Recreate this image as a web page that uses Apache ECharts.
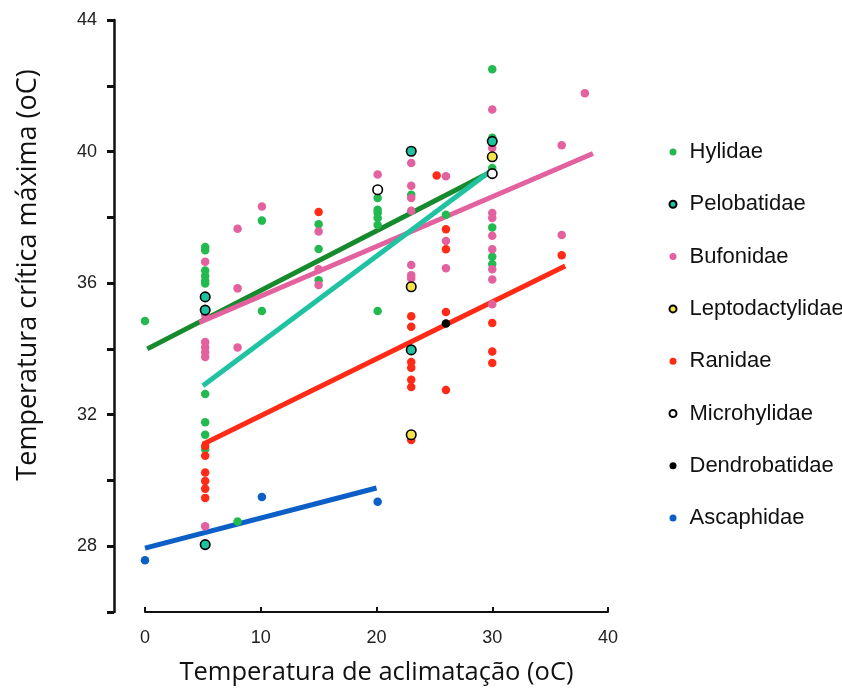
<!DOCTYPE html>
<html>
<head>
<meta charset="utf-8">
<script src="https://cdn.jsdelivr.net/npm/echarts@6/dist/echarts.min.js"></script>
<style>
html,body{margin:0;padding:0;background:#fff;}
#chart{width:842px;height:691px;}
</style>
</head>
<body>
<div id="chart"></div>
<script>
// ---- data ----
var families = ['Hylidae','Pelobatidae','Bufonidae','Leptodactylidae','Ranidae','Microhylidae','Dendrobatidae','Ascaphidae'];
var xTicks = [0, 10, 20, 30, 40];
var yTickLabels = [28, 32, 36, 40, 44];

var hylidae = [
  [0, 34.85],
  [5.2, 37.1], [5.2, 37.0], [5.2, 36.38], [5.2, 36.22], [5.2, 36.07], [5.2, 35.99], [5.2, 32.63], [5.2, 31.77], [5.2, 31.39], [5.2, 30.95],
  [8, 28.75],
  [10.1, 37.9], [10.1, 35.15],
  [15, 37.79], [15, 37.04], [15, 36.09],
  [20.1, 38.59], [20.1, 38.23], [20.1, 38.13], [20.1, 37.98], [20.1, 37.77], [20.1, 35.15],
  [23, 38.69],
  [26, 38.08],
  [30, 42.5], [30, 40.42], [30, 39.5], [30, 37.69], [30, 36.8], [30, 36.58]
];
var pelobatidae = [
  [5.2, 35.58], [5.2, 35.18], [5.2, 28.05],
  [23, 40.01], [23, 33.97],
  [30, 40.31]
];
var bufonidae = [
  [5.2, 36.65], [5.2, 35.02], [5.2, 34.21], [5.2, 34.05], [5.2, 33.9], [5.2, 33.75], [5.2, 28.61],
  [8, 37.65], [8, 35.84], [8, 34.04],
  [10.1, 38.33],
  [15, 37.57], [15, 36.42], [15, 35.94],
  [20.1, 39.3],
  [23, 39.65], [23, 38.96], [23, 38.59], [23, 38.2], [23, 36.55], [23, 36.24], [23, 36.14],
  [26, 39.25], [26, 37.28], [26, 36.45],
  [30, 41.28], [30, 40.11], [30, 38.13], [30, 37.98], [30, 37.44], [30, 37.03], [30, 36.42], [30, 36.11], [30, 35.36],
  [36, 40.19], [36, 37.46],
  [38, 41.77]
];
var leptodactylidae = [
  [23, 35.89], [23, 31.39],
  [30, 39.84]
];
var ranidae = [
  [5.2, 31.05], [5.2, 30.75], [5.2, 30.24], [5.2, 29.98], [5.2, 29.75], [5.2, 29.47],
  [15, 38.16],
  [23, 34.99], [23, 34.67], [23, 33.6], [23, 33.43], [23, 33.06], [23, 32.84], [23, 31.23],
  [25.2, 39.27],
  [26, 37.64], [26, 37.03], [26, 35.12], [26, 32.75],
  [30, 34.79], [30, 33.92], [30, 33.57],
  [36, 36.85]
];
var microhylidae = [
  [20.1, 38.84],
  [30, 39.33]
];
var dendrobatidae = [
  [26, 34.77]
];
var ascaphidae = [
  [0, 27.57], [10.1, 29.5], [20.1, 29.35]
];

// regression lines (endpoints)
var fitHylidae = [[0.2, 34.0], [30, 39.4]];
var fitPelobatidae = [[5, 32.88], [30, 39.45]];
var fitBufonidae = [[4.7, 34.8], [38.7, 39.94]];
var fitRanidae = [[5, 31.1], [36.3, 36.52]];
var fitAscaphidae = [[0, 27.94], [20, 29.77]];

// ---- styles ----
var FONT = "'Liberation Sans', Arial, Helvetica, sans-serif";
var TITLE_FONT = "'Open Sans', 'Liberation Sans', Arial, sans-serif";
var fills = {
  Hylidae: '#22b94e', Pelobatidae: '#1fc3a2', Bufonidae: '#e2619e', Leptodactylidae: '#f6e34c',
  Ranidae: '#ff2b17', Microhylidae: '#ffffff', Dendrobatidae: '#000000', Ascaphidae: '#0b5fc6'
};
var outlined = {Pelobatidae: true, Leptodactylidae: true, Microhylidae: true};
var pointData = {
  Hylidae: hylidae, Pelobatidae: pelobatidae, Bufonidae: bufonidae, Leptodactylidae: leptodactylidae,
  Ranidae: ranidae, Microhylidae: microhylidae, Dendrobatidae: dendrobatidae, Ascaphidae: ascaphidae
};

var series = [];
var fits = [
  ['fit Hylidae', fitHylidae, '#168a2c'],
  ['fit Bufonidae', fitBufonidae, '#e2619e'],
  ['fit Pelobatidae', fitPelobatidae, '#1fc3a2'],
  ['fit Ranidae', fitRanidae, '#ff2b17'],
  ['fit Ascaphidae', fitAscaphidae, '#0b5fc6']
];
fits.forEach(function (f) {
  series.push({
    name: f[0], type: 'line', data: f[1], showSymbol: false, symbol: 'none',
    lineStyle: {color: f[2], width: 5, cap: 'butt'}, z: 2, silent: true
  });
});
families.forEach(function (fam) {
  var o = outlined[fam];
  series.push({
    name: fam, type: 'scatter', data: pointData[fam],
    symbol: 'circle', symbolSize: o ? 9.5 : 8.5,
    itemStyle: {color: fills[fam], borderColor: o ? '#000' : fills[fam], borderWidth: o ? 1.6 : 0, opacity: 1},
    z: 3 + (o ? 1 : 0) + (fam === 'Dendrobatidae' ? 1 : 0)
  });
});

var chart = echarts.init(document.getElementById('chart'), null, {renderer: 'canvas'});
chart.setOption({
  animation: false,
  backgroundColor: '#ffffff',
  grid: {left: 145, right: 234, top: 20, bottom: 79, containLabel: false},
  legend: {
    data: families.map(function (f) { return {name: f, icon: 'circle'}; }),
    orient: 'vertical', left: 663.5, top: 136,
    itemWidth: 7, itemHeight: 7, itemGap: 30.3,
    textStyle: {fontFamily: FONT, fontSize: 22, color: '#111', lineHeight: 22, padding: [0, 0, 0, 8]}
  },
  xAxis: {
    type: 'value', min: 0, max: 40, interval: 10,
    name: 'Temperatura de aclimatação (oC)', nameLocation: 'middle', nameGap: 48,
    nameTextStyle: {fontFamily: TITLE_FONT, fontSize: 25.5, color: '#111'},
    axisLine: {show: true, onZero: false, lineStyle: {color: '#111', width: 2}},
    axisTick: {show: true, inside: true, length: 5, lineStyle: {color: '#111', width: 2}},
    axisLabel: {fontFamily: FONT, fontSize: 18, color: '#222', margin: 17,
      formatter: function (v) { return xTicks.indexOf(v) >= 0 ? String(v) : ''; }},
    splitLine: {show: false}
  },
  yAxis: {
    type: 'value', min: 26, max: 44, interval: 2, offset: 31,
    name: 'Temperatura crítica máxima (oC)', nameLocation: 'middle', nameGap: 72,
    nameTextStyle: {fontFamily: TITLE_FONT, fontSize: 27, color: '#111', padding: [0, 0, 0, 82]},
    axisLine: {show: true, onZero: false, lineStyle: {color: '#111', width: 2.5}},
    axisTick: {show: true, inside: false, length: 7, lineStyle: {color: '#111', width: 3}},
    axisLabel: {fontFamily: FONT, fontSize: 18, color: '#222', margin: 17,
      formatter: function (v) { return yTickLabels.indexOf(v) >= 0 ? String(v) : ''; }},
    splitLine: {show: false}
  },
  series: series
});
</script>
</body>
</html>
